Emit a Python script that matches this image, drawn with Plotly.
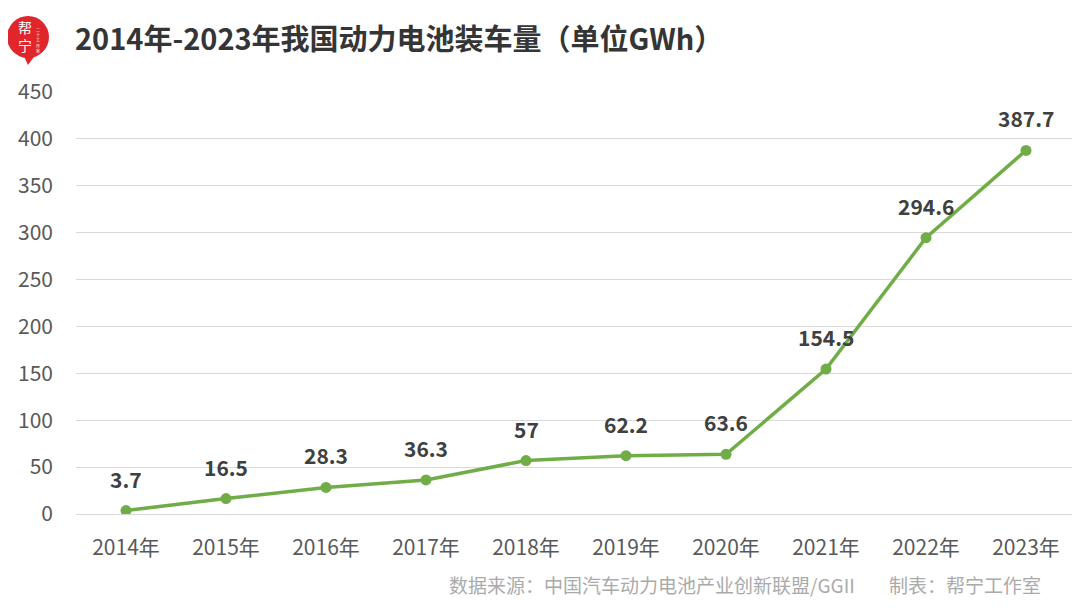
import plotly.graph_objects as go

years = ["2014年", "2015年", "2016年", "2017年", "2018年", "2019年", "2020年", "2021年", "2022年", "2023年"]
values = [3.7, 16.5, 28.3, 36.3, 57, 62.2, 63.6, 154.5, 294.6, 387.7]
value_labels = ["3.7", "16.5", "28.3", "36.3", "57", "62.2", "63.6", "154.5", "294.6", "387.7"]
y_ticks = [0, 50, 100, 150, 200, 250, 300, 350, 400, 450]

FONT = "Noto Sans CJK SC"
GREEN = "#70ad47"
RED = "#e0262b"

# page body has an 8px margin; compensate so the figure matches 1080x611 page coords
OFF = 8
W, H = 1080 - OFF, 611 - OFF
PL, PT, PW, PH = 76 - OFF, 92 - OFF, 1000, 422  # plot area in figure coords


def px(xp):  # page x -> paper x
    return (xp - OFF - PL) / PW


def py(yp):  # page y -> paper y
    return (PT + PH - (yp - OFF)) / PH


fig = go.Figure()
fig.add_trace(go.Scatter(
    x=years, y=values, mode="lines+markers",
    line=dict(color=GREEN, width=3.5),
    marker=dict(color=GREEN, size=11),
    hoverinfo="x+y", showlegend=False,
))

for yr, v, lab in zip(years, values, value_labels):
    fig.add_annotation(x=yr, y=v, text=f"<b>{lab}</b>", showarrow=False,
                       yshift=32, xref="x", yref="y",
                       font=dict(family=FONT, size=21, color="#404040"))

fig.update_layout(
    width=W, height=H,
    margin=dict(l=PL, r=W - PL - PW, t=PT, b=H - PT - PH, autoexpand=False),
    paper_bgcolor="white", plot_bgcolor="white",
    font=dict(family=FONT, color="#595959"),
    title=dict(text="<b>2014年-2023年我国动力电池装车量（单位GWh）</b>",
               x=(75 - OFF) / W, xanchor="left", y=1 - (40 - OFF) / H, yanchor="middle",
               font=dict(family=FONT, size=29, color="#353535")),
    xaxis=dict(showgrid=False, showline=False, ticks="", tickfont=dict(size=21, color="#595959"),
               range=[-0.5, 9.5], ticklabelstandoff=19, automargin=False),
    yaxis=dict(range=[0, 450], tickvals=y_ticks, showgrid=True, gridcolor="#d9d9d9", gridwidth=1,
               zeroline=True, zerolinecolor="#d9d9d9", zerolinewidth=1,
               tickfont=dict(size=21, color="#595959"), ticks="", ticklabelstandoff=22,
               automargin=False),
)

# logo: red speech bubble
fig.add_shape(type="circle", xref="paper", yref="paper",
              x0=px(7), x1=px(49), y0=py(58), y1=py(16),
              fillcolor=RED, line=dict(width=0), layer="above")
fig.add_shape(type="path", xref="paper", yref="paper",
              path=f"M {px(22)} {py(52)} L {px(28)} {py(65)} L {px(36)} {py(54)} Z",
              fillcolor=RED, line=dict(width=0), layer="above")
fig.add_annotation(x=px(25), y=py(36), xref="paper", yref="paper", text="帮<br>宁",
                   showarrow=False, font=dict(family=FONT, size=14, color="white"),
                   xanchor="center", yanchor="middle")
fig.add_annotation(x=px(38), y=py(40), xref="paper", yref="paper", text="二<br>十<br>工<br>作<br>室",
                   showarrow=False, font=dict(family=FONT, size=4, color="white"),
                   xanchor="center", yanchor="middle")

# footer
fig.add_annotation(x=px(447), y=py(584), xref="paper", yref="paper",
                   text="数据来源：中国汽车动力电池产业创新联盟/GGII", showarrow=False,
                   xanchor="left", yanchor="middle", font=dict(family=FONT, size=19, color="#aaaaaa"))
fig.add_annotation(x=px(887), y=py(584), xref="paper", yref="paper",
                   text="制表：帮宁工作室", showarrow=False,
                   xanchor="left", yanchor="middle", font=dict(family=FONT, size=19, color="#aaaaaa"))

fig.write_html("out.html")
